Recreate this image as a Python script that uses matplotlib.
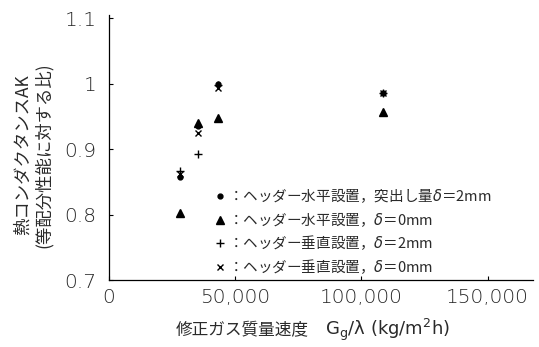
import matplotlib
matplotlib.use("Agg")
import matplotlib.pyplot as plt

plt.rcParams['font.family'] = ['Noto Sans CJK JP', 'DejaVu Sans']
plt.rcParams['mathtext.fontset'] = 'dejavusans'

# Corrected gas mass velocity Gg/λ (kg/m2h) and relative heat conductance AK
flow_h2 = [28200, 35300, 43300, 108700]      # header horizontal, δ=2mm
ak_h2 = [0.857, 0.935, 1.000, 0.985]
flow_h0 = [28200, 35300, 43300, 108700]      # header horizontal, δ=0mm
ak_h0 = [0.803, 0.940, 0.948, 0.956]
flow_v2 = [28200, 35300, 43300, 108700]      # header vertical, δ=2mm
ak_v2 = [0.867, 0.893, 0.998, 0.985]
flow_v0 = [28200, 35300, 43300, 108700]      # header vertical, δ=0mm
ak_v0 = [0.862, 0.925, 0.994, 0.985]

labels = ["：ヘッダー水平設置，突出し量$\\delta$＝2mm",
          "：ヘッダー水平設置，$\\delta$＝0mm",
          "：ヘッダー垂直設置，$\\delta$＝2mm",
          "：ヘッダー垂直設置，$\\delta$＝0mm"]

xticks = [0, 50000, 100000, 150000]
xticklabels = ["0", "50,000", "100,000", "150,000"]
yticks = [0.7, 0.8, 0.9, 1.0, 1.1]
yticklabels = ["0.7", "0.8", "0.9", "1", "1.1"]

fig = plt.figure(figsize=(5.39, 3.47), dpi=100)
ax = fig.add_axes([0.202, 0.193, 0.787, 0.764])

ax.plot(flow_h2, ak_h2, 'o', ms=3.5, color='black', label=labels[0])
ax.plot(flow_h0, ak_h0, '^', ms=5.5, color='black', label=labels[1])
ax.plot(flow_v2, ak_v2, '+', ms=6, mew=1.0, color='black', label=labels[2])
ax.plot(flow_v0, ak_v0, 'x', ms=4, mew=1.0, color='black', label=labels[3])

ax.set_xlim(0, 168000)
ax.set_ylim(0.7, 1.105)
ax.set_xticks(xticks)
ax.set_xticklabels(xticklabels)
ax.set_yticks(yticks)
ax.set_yticklabels(yticklabels)
ax.tick_params(direction='in', length=3, width=0.8, labelsize=14.5)
ax.tick_params(axis='x', pad=6)
ax.tick_params(axis='y', pad=9)
for lab in ax.get_xticklabels() + ax.get_yticklabels():
    lab.set_color('#262626')
    lab.set_family('DejaVu Sans')
    lab.set_fontweight('light')
for s in ('top', 'right'):
    ax.spines[s].set_visible(False)
for s in ('left', 'bottom'):
    ax.spines[s].set_linewidth(0.9)

# x-axis title: Japanese caption followed by the quantity and its unit
fig.text(0.573, 0.035, "修正ガス質量速度", fontsize=12,
         ha='right', va='baseline', color='#2a2a2a')
fig.text(0.603, 0.035, "G$_{\\rm g}$/λ (kg/m$^2$h)", fontsize=13,
         family=['DejaVu Sans'], ha='left', va='baseline', color='#2a2a2a')

# y-axis title in two lines
fig.text(0.043, 0.553, "熱コンダクタンスAK", rotation=90, fontsize=12.5,
         ha='center', va='center', color='#2a2a2a')
fig.text(0.081, 0.553, "(等配分性能に対する比)", rotation=90, fontsize=12.5,
         ha='center', va='center', color='#2a2a2a')

ax.legend(loc='lower left', bbox_to_anchor=(0.235, -0.005), frameon=False,
          fontsize=10.5, handlelength=0.8, handletextpad=0.1,
          labelspacing=0.32, borderaxespad=0, labelcolor='#2a2a2a')

fig.savefig("out.png", dpi=100)
